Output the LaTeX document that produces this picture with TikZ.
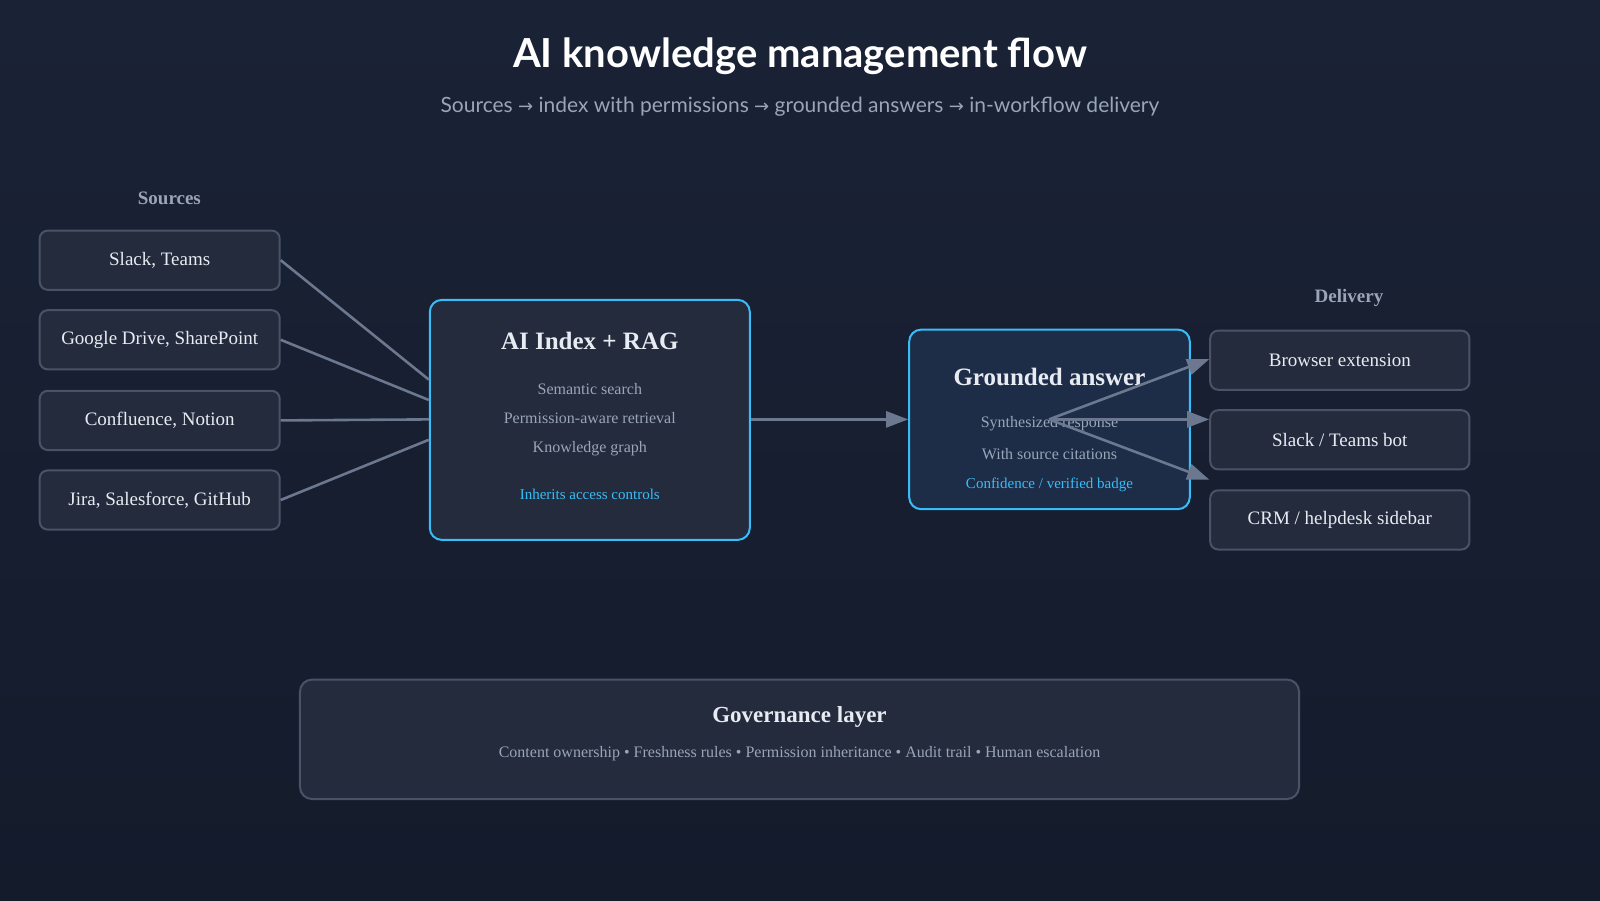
\documentclass[tikz,border=0pt]{standalone}
\usepackage{fontspec}
\setmainfont{Liberation Serif}
\newfontfamily\sansf{Lato}
\newfontfamily\arrf{DejaVu Sans}
\usetikzlibrary{arrows.meta}
\definecolor{bgA}{HTML}{1A2236}
\definecolor{bgB}{HTML}{141B2B}
\definecolor{boxf}{HTML}{232B3D}
\definecolor{boxd}{HTML}{4A5366}
\definecolor{sky}{HTML}{38BDF8}
\definecolor{gfill}{HTML}{1D2D47}
\definecolor{muted}{HTML}{9AA5B8}
\definecolor{conn}{HTML}{6B7890}
\definecolor{txt}{HTML}{E8ECF2}
\newcommand{\fs}[1]{\fontsize{#1}{#1}\selectfont}
\newcommand{\ar}{{\arrf\fs{9}→}}
\begin{document}
\begin{tikzpicture}[x=0.5102pt,y=-0.5102pt,
 box/.style={draw=boxd,fill=boxf,line width=1pt,rounded corners=4pt,text=txt,font=\fs{9.5},inner sep=0pt},
 src/.style={box,minimum width=120pt,minimum height=29.6pt},
 dlv/.style={box,minimum width=129.6pt,minimum height=29.6pt},
 big/.style={draw=sky,line width=1pt,rounded corners=6pt,inner sep=0pt},
 hdr/.style={font=\fs{9.5}\bfseries,text=muted},
 line/.style={draw=conn,line width=1.3pt},
 arr/.style={line,-{Triangle[length=11pt,width=8pt]}},
 tt/.style={text=txt,font=\fs{12.5}\bfseries},
 sub/.style={text=muted,font=\fs{8}},
 hl/.style={text=sky,font=\fs{7.5}}]
\shade[top color=bgA,bottom color=bgB] (0,0) rectangle (1568,882);
\useasboundingbox (0,0) rectangle (1568,882);
\node[text=white,font=\sansf\fs{20}\bfseries] (title) at (784,55) {AI knowledge management flow};
\node[text=muted,font=\sansf\fs{10.5}] (subt) at (784,105) {Sources \ar{} index with permissions \ar{} grounded answers \ar{} in-workflow delivery};
\node[hdr] (hs) at (166,194) {Sources};
\node[src] (s1) at (156.5,255) {Slack, Teams};
\node[src] (s2) at (156.5,333) {Google Drive, SharePoint};
\node[src] (s3) at (156.5,412) {Confluence, Notion};
\node[src] (s4) at (156.5,490) {Jira, Salesforce, GitHub};
\node[big,fill=boxf,minimum width=160pt,minimum height=120pt] (idx) at (578,411.5) {};
\node[tt] (it) at (578,334) {AI Index + RAG};
\node[sub] (i1) at (578,381) {Semantic search};
\node[sub] (i2) at (578,410) {Permission-aware retrieval};
\node[sub] (i3) at (578,440) {Knowledge graph};
\node[hl] (i4) at (578,484) {Inherits access controls};
\node[big,fill=gfill,minimum width=140.3pt,minimum height=89.8pt] (ga) at (1028.5,411) {};
\node[tt] (gt) at (1028.5,369) {Grounded answer};
\node[sub] (g1) at (1028.5,415) {Synthesized response};
\node[sub] (g2) at (1028.5,445) {With source citations};
\node[hl] (g3) at (1028.5,475) {Confidence / verified badge};
\coordinate (gc) at (1028,411);
\node[hdr] (hd) at (1322,292) {Delivery};
\node[dlv] (d1) at (1313,353) {Browser extension};
\node[dlv] (d2) at (1313,431) {Slack / Teams bot};
\node[dlv] (d3) at (1313,509.5) {CRM / helpdesk sidebar};
\node[box,minimum width=499.5pt,minimum height=59.7pt,rounded corners=6pt] (gov) at (783.5,724.5) {};
\node[tt,font=\fs{11.5}\bfseries] (govt) at (783.5,703) {Governance layer};
\node[sub] (govs) at (783.5,739) {Content ownership • Freshness rules • Permission inheritance • Audit trail • Human escalation};
\draw[line] (s1.east) -- (idx.west |- 0,372);
\draw[line] (s2.east) -- (idx.west |- 0,392);
\draw[line] (s3.east) -- (idx.west |- 0,411);
\draw[line] (s4.east) -- (idx.west |- 0,431);
\draw[arr] (idx.east |- 0,411) -- (ga.west |- 0,411);
\draw[arr] (gc) -- (d1.west |- 0,352);
\draw[arr] (gc) -- (d2.west |- gc);
\draw[arr] (gc) -- (d3.west |- 0,470);
\end{tikzpicture}
\end{document}
